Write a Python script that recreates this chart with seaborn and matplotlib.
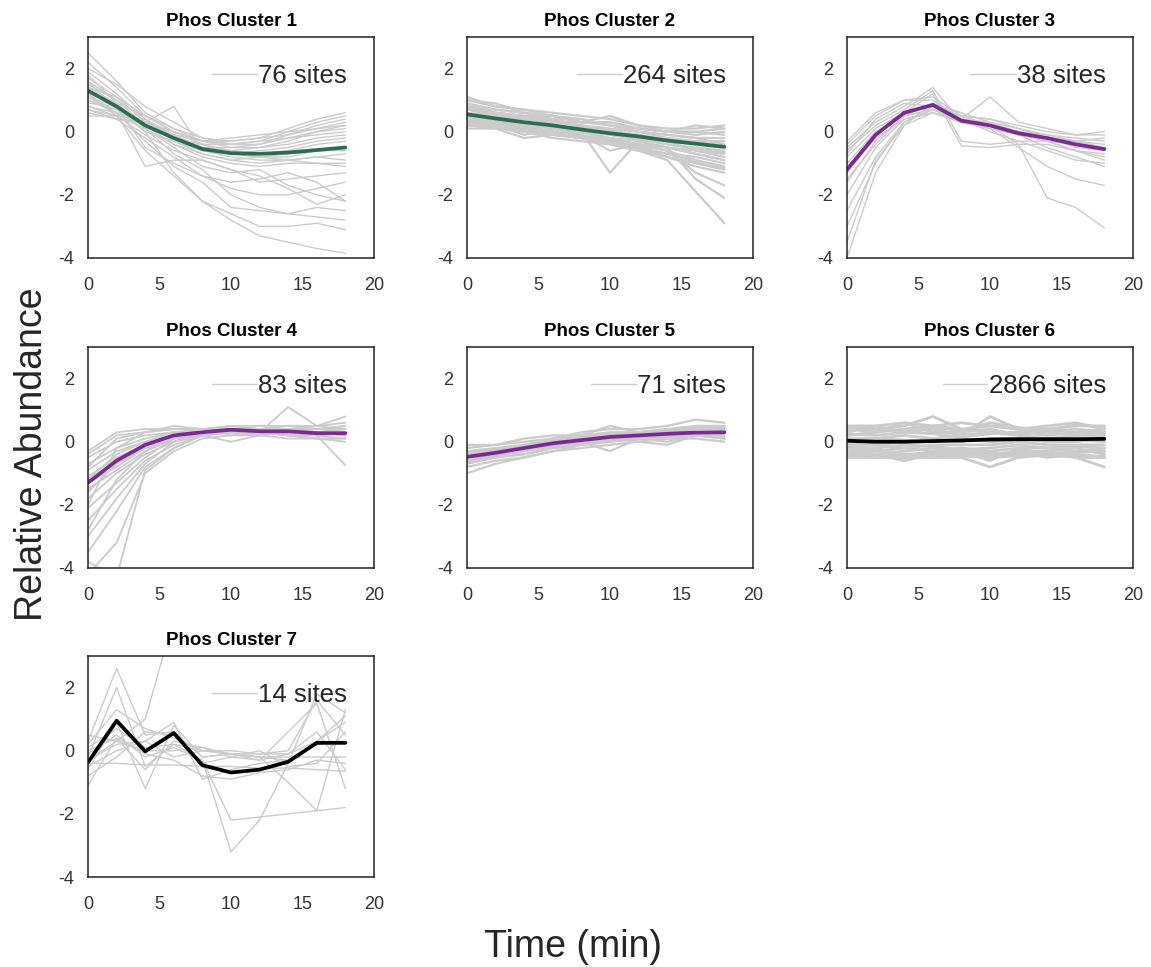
import numpy as np
import pandas as pd
import matplotlib.pyplot as plt
from matplotlib.lines import Line2D
import seaborn as sns

# --- values -----------------------------------------------------------------
TIME = [0, 2, 4, 6, 8, 10, 12, 14, 16, 18]
SITES = [76, 264, 38, 83, 71, 2866, 14]
MEAN_COLORS = ["#2b6e4f", "#2b6e4f", "#7b2a94", "#7b2a94", "#7b2a94", "black", "black"]

MEAN_1 = [1.3, 0.8, 0.2, -0.2, -0.55, -0.68, -0.7, -0.66, -0.58, -0.5]
MEAN_2 = [0.55, 0.42, 0.3, 0.2, 0.07, -0.05, -0.15, -0.28, -0.38, -0.48]
MEAN_3 = [-1.2, -0.1, 0.6, 0.85, 0.35, 0.2, -0.05, -0.2, -0.4, -0.55]
MEAN_4 = [-1.3, -0.6, -0.1, 0.2, 0.3, 0.38, 0.33, 0.33, 0.27, 0.27]
MEAN_5 = [-0.48, -0.35, -0.2, -0.05, 0.05, 0.15, 0.2, 0.25, 0.29, 0.3]
MEAN_6 = [0.03, 0.0, 0.0, 0.02, 0.04, 0.07, 0.08, 0.08, 0.08, 0.09]
MEAN_7 = [-0.37, 0.95, -0.02, 0.56, -0.46, -0.69, -0.6, -0.35, 0.25, 0.25]

SITES_1 = [
    [2.5, 1.6, 0.6, 0.1, -0.3, -0.3, -0.2, 0.1, 0.4, 0.6],
    [2.2, 1.4, 0.5, 0.0, -0.4, -0.4, -0.3, 0.0, 0.3, 0.5],
    [1.9, 1.2, 0.4, -0.1, -0.5, -0.5, -0.4, -0.1, 0.2, 0.4],
    [1.6, 1.0, 0.4, -0.2, -0.4, -0.6, -0.5, -0.3, 0.0, 0.2],
    [1.4, 1.1, 0.3, -0.1, -0.3, -0.2, -0.1, 0.0, 0.1, 0.3],
    [1.2, 0.9, 0.5, 0.1, -0.2, -0.4, -0.4, -0.2, -0.1, 0.0],
    [1.0, 0.7, 0.3, 0.0, -0.3, -0.5, -0.5, -0.4, -0.2, -0.1],
    [0.8, 0.6, 0.2, -0.2, -0.5, -0.6, -0.7, -0.6, -0.4, -0.3],
    [0.6, 0.4, 0.3, 0.0, -0.4, -0.7, -0.8, -0.7, -0.6, -0.5],
    [0.5, 0.5, 0.4, -0.3, -0.6, -0.8, -0.9, -0.9, -0.8, -0.7],
    [2.0, 1.5, 0.8, 0.3, -0.2, -0.3, -0.2, -0.1, 0.1, 0.2],
    [0.9, 0.8, 0.0, -0.3, -0.7, -0.9, -1.0, -0.9, -0.8, -0.9],
    [1.5, 1.0, 0.2, -0.4, -0.8, -1.0, -1.1, -1.0, -1.0, -1.1],
    [1.1, 0.6, -1.1, -0.9, -0.9, -1.2, -1.6, -1.5, -1.4, -1.3],
    [1.3, 0.8, -0.5, -1.0, -1.4, -1.8, -2.0, -2.0, -1.8, -1.6],
    [0.7, 0.4, -0.2, -0.8, -1.4, -1.6, -1.5, -1.3, -1.6, -2.2],
    [1.8, 0.9, 0.1, -0.7, -1.2, -2.0, -2.4, -2.6, -2.4, -2.5],
    [1.0, 0.6, -0.3, -1.1, -1.6, -2.4, -2.5, -2.6, -2.7, -2.8],
    [1.6, 0.7, 0.0, -1.3, -2.2, -2.6, -3.0, -3.0, -2.9, -3.1],
    [1.2, 0.5, -0.6, -1.4, -2.2, -2.8, -3.3, -3.5, -3.7, -3.85],
    [1.4, 0.9, 0.1, -0.5, -1.1, -1.3, -1.2, -1.7, -2.0, -2.2],
    [0.8, 0.5, -0.1, -0.6, -0.9, -1.2, -1.4, -1.8, -2.3, -2.0],
    [1.2, 0.6, 0.3, 0.8, -0.6, -0.7, -0.8, -0.9, -1.0, -1.0],
    [1.7, 1.1, 0.5, 0.0, -0.3, -0.4, -0.3, -0.2, 0.0, 0.1],
    [1.1, 0.8, 0.2, -0.1, -0.6, -0.7, -0.6, -0.5, -0.3, -0.2],
    [0.7, 0.5, 0.1, -0.4, -0.7, -0.9, -0.8, -0.8, -0.6, -0.6],
]
SITES_2 = [
    [1.1, 0.8, 0.7, 0.6, 0.5, 0.4, 0.2, 0.1, 0.1, 0.2],
    [1.0, 0.9, 0.6, 0.5, 0.3, 0.3, 0.1, 0.0, -0.1, 0.0],
    [0.9, 0.7, 0.6, 0.4, 0.4, 0.2, 0.0, -0.1, -0.2, -0.2],
    [0.8, 0.6, 0.5, 0.4, 0.2, 0.1, 0.0, -0.2, -0.3, -0.3],
    [0.7, 0.5, 0.4, 0.3, 0.2, 0.0, -0.1, -0.3, -0.4, -0.5],
    [0.6, 0.5, 0.3, 0.2, 0.1, -0.1, -0.2, -0.4, -0.5, -0.6],
    [0.5, 0.4, 0.3, 0.1, 0.0, -0.2, -0.3, -0.5, -0.6, -0.7],
    [0.4, 0.3, 0.2, 0.1, -0.1, -0.2, -0.4, -0.5, -0.7, -0.9],
    [0.3, 0.2, 0.1, 0.0, -0.1, -0.3, -0.5, -0.7, -0.8, -1.0],
    [0.2, 0.2, 0.0, -0.1, -0.2, -0.3, -0.5, -0.8, -1.0, -1.2],
    [0.1, 0.1, -0.2, -0.1, -0.2, -0.4, -0.6, -0.8, -1.1, -1.3],
    [0.6, 0.4, 0.4, 0.3, 0.3, 0.5, 0.2, 0.0, 0.2, 0.1],
    [0.4, 0.2, -0.1, 0.1, 0.0, -1.3, -0.3, -0.5, -0.7, -0.9],
    [0.5, 0.3, 0.1, 0.0, -0.1, -0.6, -0.4, -0.5, -1.5, -2.1],
    [0.3, 0.3, 0.2, 0.0, -0.1, -0.3, -0.4, -0.6, -1.3, -1.7],
    [0.2, 0.1, 0.0, -0.2, -0.3, -0.4, -0.6, -0.9, -1.9, -2.9],
    [0.9, 0.6, 0.5, 0.5, 0.3, 0.2, 0.0, -0.1, -0.2, -0.4],
    [0.7, 0.6, 0.5, 0.2, 0.1, 0.0, -0.2, -0.3, -0.6, -0.8],
    [0.8, 0.7, 0.6, 0.5, 0.3, 0.3, 0.1, 0.0, 0.0, -0.1],
    [0.35, 0.25, 0.15, 0.0, -0.15, -0.25, -0.45, -0.6, -0.9, -1.1],
    [1.0, 0.8, 0.7, 0.5, 0.4, 0.2, 0.1, 0.0, 0.0, 0.1],
    [0.75, 0.55, 0.45, 0.35, 0.15, 0.05, -0.1, -0.25, -0.35, -0.4],
    [0.45, 0.35, 0.25, 0.15, 0.0, -0.1, -0.25, -0.4, -0.55, -0.65],
    [0.25, 0.15, 0.05, -0.05, -0.2, -0.35, -0.55, -0.7, -0.95, -1.15],
]
SITES_3 = [
    [-0.3, 0.6, 1.0, 1.1, 0.5, 0.4, 0.2, 0.0, -0.1, 0.0],
    [-0.4, 0.5, 1.0, 1.0, 0.4, 1.1, 0.3, 0.1, -0.1, -0.1],
    [-0.5, 0.3, 0.8, 1.4, 0.3, 0.2, 0.0, -0.2, -0.3, -0.4],
    [-0.6, 0.2, 0.7, 1.3, -0.3, -0.4, -0.3, -0.3, -0.4, -0.5],
    [-0.8, 0.1, 0.6, 1.2, -0.45, -0.5, -0.4, -0.4, -0.6, -0.7],
    [-1.0, 0.0, 0.5, 0.7, 0.5, 0.4, 0.1, -0.1, -0.3, -0.5],
    [-1.3, -0.2, 0.4, 0.6, 0.4, 0.3, 0.0, -0.2, -0.5, -0.6],
    [-1.6, -0.3, 0.5, 0.7, 0.3, 0.2, 0.0, -0.3, -0.6, -0.8],
    [-2.0, -0.5, 0.4, 0.6, 0.3, 0.1, -0.1, -0.3, -0.6, -0.9],
    [-2.5, -0.8, 0.3, 0.7, 0.4, 0.0, -0.3, -0.6, -0.9, -1.0],
    [-3.0, -1.0, 0.3, 0.8, 0.3, 0.2, -0.1, -0.5, -0.8, -1.1],
    [-4.0, -1.3, 0.2, 0.6, 0.3, 0.1, -0.5, -1.1, -1.5, -1.7],
    [-3.5, -0.9, 0.2, 0.9, 0.4, 0.2, -0.4, -2.1, -2.4, -3.05],
    [-1.5, -0.4, 0.5, 0.9, 0.6, 0.3, 0.1, -0.2, -0.3, -0.2],
    [-0.7, 0.4, 0.9, 0.8, 0.5, 0.2, 0.0, -0.1, -0.2, -0.3],
]
SITES_4 = [
    [-0.3, 0.3, 0.4, 0.4, 0.4, 0.5, 0.4, 0.5, 0.5, 0.6],
    [-0.4, 0.2, 0.3, 0.5, 0.4, 0.3, 0.4, 0.4, 0.5, 0.8],
    [-0.5, 0.0, 0.2, 0.3, 0.3, 0.4, 0.3, 1.1, 0.5, 0.4],
    [-0.7, -0.2, 0.1, 0.3, 0.3, 0.4, 0.3, 0.3, 0.2, -0.75],
    [-0.9, -0.3, 0.0, 0.2, 0.3, 0.3, 0.2, 0.3, 0.3, 0.2],
    [-1.1, -0.5, -0.1, 0.2, 0.3, 0.4, 0.3, 0.2, 0.1, 0.1],
    [-1.3, -0.8, -0.2, 0.1, 0.2, 0.3, 0.3, 0.3, 0.2, 0.3],
    [-1.5, -0.9, -0.3, 0.1, 0.3, 0.5, 0.4, 0.4, 0.3, 0.4],
    [-1.8, -1.0, -0.4, 0.0, 0.3, 0.4, 0.3, 0.2, 0.1, 0.0],
    [-2.1, -1.3, -0.5, 0.1, 0.2, 0.3, 0.4, 0.4, 0.3, 0.2],
    [-2.5, -1.5, -0.6, -0.1, 0.2, 0.0, 0.2, 0.3, 0.2, 0.3],
    [-3.0, -1.8, -0.7, 0.0, 0.3, 0.4, 0.3, 0.3, 0.4, 0.4],
    [-3.5, -2.2, -0.8, -0.2, 0.2, 0.3, 0.3, 0.3, 0.3, 0.2],
    [-4.2, -3.2, -1.0, -0.3, 0.1, 0.2, 0.2, 0.3, 0.3, 0.3],
    [-3.8, -4.3, -0.9, -0.2, 0.2, 0.3, 0.3, 0.2, 0.2, 0.3],
    [-2.0, -0.2, 0.3, 0.4, 0.4, 0.3, 0.3, 0.4, 0.3, 0.4],
    [-0.8, 0.1, 0.3, 0.4, 0.4, 0.2, 0.3, 0.2, 0.2, 0.1],
    [-1.2, -0.4, 0.0, 0.3, 0.4, 0.5, 0.5, 0.5, 0.4, 0.5],
    [-1.6, -0.7, -0.2, 0.0, 0.2, 0.3, 0.2, 0.1, 0.1, 0.1],
    [-2.8, -1.2, -0.3, 0.1, 0.3, 0.4, 0.4, 0.4, 0.4, 0.5],
]
SITES_5 = [
    [-0.1, -0.1, 0.0, 0.1, 0.3, 0.4, 0.4, 0.5, 0.7, 0.6],
    [-0.2, -0.1, 0.1, 0.2, 0.2, 0.5, 0.3, 0.4, 0.5, 0.5],
    [-0.3, -0.2, -0.1, 0.1, 0.2, 0.3, 0.3, 0.4, 0.4, 0.5],
    [-0.4, -0.3, -0.1, 0.0, 0.1, 0.2, 0.3, 0.3, 0.4, 0.4],
    [-0.5, -0.4, -0.2, -0.1, 0.0, 0.1, 0.2, 0.3, 0.3, 0.3],
    [-0.6, -0.5, -0.3, -0.1, 0.0, 0.1, 0.2, 0.2, 0.3, 0.2],
    [-0.7, -0.5, -0.4, -0.2, -0.1, 0.0, 0.1, 0.2, 0.2, 0.1],
    [-0.8, -0.6, -0.5, -0.3, -0.1, 0.0, 0.1, 0.1, 0.2, 0.1],
    [-1.0, -0.7, -0.5, -0.3, -0.2, -0.1, 0.0, 0.1, 0.1, 0.0],
    [-0.3, -0.3, -0.2, -0.1, 0.0, -0.3, 0.1, 0.0, 0.2, 0.3],
    [-0.6, -0.4, -0.4, -0.2, 0.0, 0.1, 0.0, -0.1, 0.2, 0.2],
    [-0.35, -0.25, -0.1, 0.05, 0.15, 0.25, 0.3, 0.35, 0.45, 0.45],
    [-0.65, -0.45, -0.3, -0.15, -0.05, 0.05, 0.15, 0.15, 0.25, 0.15],
]
SITES_6 = [
    [0.5, 0.5, 0.6, 0.5, 0.6, 0.5, 0.4, 0.4, 0.5, 0.5],
    [0.4, 0.4, 0.5, 0.8, 0.4, 0.5, 0.4, 0.5, 0.6, 0.4],
    [0.3, 0.5, 0.3, 0.4, 0.2, 0.8, 0.4, 0.3, 0.4, 0.3],
    [0.2, 0.3, 0.6, 0.3, 0.3, 0.4, 0.2, 0.3, 0.2, 0.3],
    [0.1, 0.1, 0.2, 0.1, 0.2, 0.3, 0.2, 0.1, 0.2, 0.2],
    [0.0, -0.1, 0.0, 0.1, 0.0, 0.1, 0.1, 0.0, 0.0, 0.1],
    [-0.1, -0.1, -0.2, -0.1, -0.1, -0.1, 0.0, -0.1, -0.1, -0.1],
    [-0.2, -0.3, -0.2, -0.3, -0.2, -0.3, -0.2, -0.2, -0.3, -0.2],
    [-0.3, -0.4, -0.3, -0.2, -0.4, -0.5, -0.3, -0.3, -0.2, -0.4],
    [-0.4, -0.4, -0.6, -0.4, -0.3, -0.4, -0.4, -0.3, -0.5, -0.5],
    [-0.5, -0.5, -0.4, -0.5, -0.5, -0.8, -0.5, -0.4, -0.5, -0.8],
    [-0.4, -0.5, -0.5, -0.5, -0.4, -0.4, -0.3, -0.5, -0.4, -0.5],
    [0.4, 0.3, 0.4, 0.5, 0.4, 0.3, 0.3, 0.4, 0.3, 0.4],
    [-0.3, -0.2, -0.6, -0.3, -0.3, -0.6, -0.2, -0.4, -0.3, -0.3],
    [0.45, 0.4, 0.35, 0.45, 0.35, 0.6, 0.45, 0.35, 0.55, 0.45],
    [0.25, 0.2, 0.3, 0.25, 0.15, 0.25, 0.3, 0.2, 0.3, 0.25],
    [0.05, 0.1, 0.05, 0.0, 0.1, 0.0, 0.05, 0.1, 0.05, 0.0],
    [-0.15, -0.2, -0.1, -0.15, -0.25, -0.2, -0.1, -0.2, -0.15, -0.2],
    [-0.35, -0.3, -0.4, -0.35, -0.3, -0.35, -0.4, -0.35, -0.35, -0.3],
    [-0.45, -0.45, -0.45, -0.4, -0.45, -0.5, -0.45, -0.45, -0.45, -0.45],
]
SITES_7 = [
    [0.3, 2.6, 0.5, 0.6, -0.2, -0.1, -0.2, -0.3, 0.2, 0.3],
    [-0.2, 2.0, -0.5, 0.2, 0.0, 0.0, -0.1, 0.0, 1.6, 0.5],
    [-0.3, 0.3, 1.0, 4.2, 3.8, 3.6, 3.5, 3.4, 3.3, 3.2],
    [0.1, 0.7, 0.1, 0.2, -0.3, -3.2, -2.2, -0.4, 1.8, 1.2],
    [-0.1, 0.5, -0.2, 0.1, -0.3, -2.2, -2.1, -2.0, -1.9, -1.8],
    [-0.6, 0.9, -1.2, 0.8, -0.2, -0.1, -0.1, -0.1, 0.3, 0.9],
    [-0.4, -0.4, -0.45, -0.45, -0.5, -0.5, -0.55, -0.55, -0.6, -0.65],
    [-1.1, 0.4, -0.6, 0.3, 0.1, -0.1, -0.2, -1.0, -1.9, 1.3],
    [0.5, 0.3, 0.0, 0.0, 0.1, -0.2, -0.3, -0.1, 0.6, -0.6],
    [0.2, 1.3, 0.7, 0.4, 0.0, -0.1, -0.3, 0.6, 1.5, -1.2],
    [-0.5, 0.0, 0.3, 0.9, -0.9, -0.6, -0.4, -0.3, 0.3, 1.1],
    [0.0, 0.4, -0.1, -0.3, -0.8, -0.9, -0.7, -0.6, -0.3, -0.4],
    [-0.3, 0.2, 0.3, -0.2, 0.0, -0.1, -0.2, -0.2, -0.2, -0.2],
    [-0.8, -0.2, 0.6, 0.5, -0.4, -0.2, 0.0, -0.5, -0.4, 0.6],
]

MEANS = [MEAN_1, MEAN_2, MEAN_3, MEAN_4, MEAN_5, MEAN_6, MEAN_7]
TRACES = [SITES_1, SITES_2, SITES_3, SITES_4, SITES_5, SITES_6, SITES_7]

# long-form table of every site trace
rows = []
for k, traces in enumerate(TRACES):
    for s, trace in enumerate(traces):
        for t, v in zip(TIME, trace):
            rows.append((k, s, t, v))
sites = pd.DataFrame(rows, columns=["cluster", "site", "time", "value"])

# --- figure -----------------------------------------------------------------
sns.set_theme(style="white")
plt.rcParams["font.family"] = ["Liberation Sans", "DejaVu Sans"]
plt.rcParams["axes.unicode_minus"] = False
GREY = "#cbcbcb"
GREY_LW = [1.0, 1.6, 1.0, 1.3, 1.6, 2.0, 1.0]   # denser clusters look like a band

fig = plt.figure(figsize=(11.51, 9.67), dpi=100)
W, H = 1151, 967
lefts = [88, 467, 847]
tops = [37, 347, 656]
aw, ah = 286, 221

for k in range(7):
    r, c = divmod(k, 3)
    ax = fig.add_axes([lefts[c] / W, 1 - (tops[r] + ah) / H, aw / W, ah / H])
    sns.lineplot(data=sites[sites.cluster == k], x="time", y="value", units="site",
                 estimator=None, color=GREY, lw=GREY_LW[k], ax=ax, legend=False)
    sns.lineplot(x=TIME, y=MEANS[k], color=MEAN_COLORS[k], lw=2.7, ax=ax)
    ax.set(xlim=(0, 20), ylim=(-4, 3), xticks=[0, 5, 10, 15, 20],
           yticks=[-4, -2, 0, 2], xlabel="", ylabel="")
    ax.set_title(f"Phos Cluster {k + 1}", fontsize=13.5, fontweight="bold",
                 pad=8, color="black")
    ax.tick_params(axis="x", labelsize=13, pad=14, colors="#333333", length=0)
    ax.tick_params(axis="y", labelsize=13, pad=10, colors="#333333", length=0)
    for sp in ax.spines.values():
        sp.set_color("#222222")
        sp.set_linewidth(1.1)
    ax.legend(handles=[Line2D([], [], color=GREY, lw=1)], labels=[f"{SITES[k]} sites"],
              loc="upper right", frameon=False, fontsize=18.5, handletextpad=0.05,
              handlelength=1.75, borderaxespad=0.55, borderpad=0.5)

fig.text(0.028, 0.53, "Relative Abundance", rotation=90, fontsize=27,
         ha="center", va="center")
fig.text(0.498, 0.021, "Time (min)", fontsize=27, ha="center", va="center")

fig.savefig("out.png", dpi=100, facecolor="white")
